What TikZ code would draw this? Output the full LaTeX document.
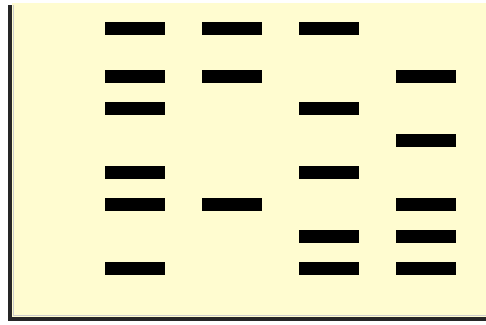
\documentclass[tikz,border=0pt]{standalone}
\usepackage{tikz}

\definecolor{gelbg}{RGB}{255,252,208}

\tikzset{
    band/.style={fill=black, inner sep=0pt,
        minimum width=60pt, minimum height=13pt},
}

\begin{document}
\begin{tikzpicture}[x=1pt,y=-1pt]

\useasboundingbox (0,0) rectangle (486,324);

% Gel
\fill[gelbg] (12,3) rectangle (486,317);
\draw[gray!40,line width=1.5pt] (13.5,5) -- (13.5,315.5) -- (486,315.5);
\fill[black!85] (8,5) rectangle (12,321);
\fill[black!85] (8,317) rectangle (486,321);

% Bands (lane x / rows y)
\foreach \y in {28,76,108,172,204,268}
    \node[band] (l1-\y) at (135,\y) {};
\foreach \y in {28,76,204}
    \node[band] (l2-\y) at (232,\y) {};
\foreach \y in {28,108,172,236,268}
    \node[band] (l3-\y) at (329,\y) {};
\foreach \y in {76,140,204,236,268}
    \node[band] (l4-\y) at (426,\y) {};

\end{tikzpicture}
\end{document}
